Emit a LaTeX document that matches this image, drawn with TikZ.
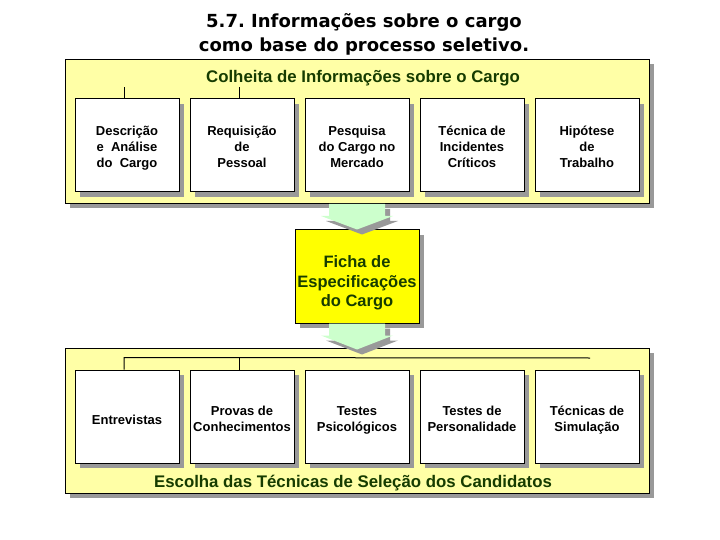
\documentclass[tikz,border=0pt]{standalone}
\usepackage{fontspec}
\setmainfont{Liberation Sans}
\newfontfamily\headfont{DejaVu Sans}
\usepackage{tikz}
\usetikzlibrary{positioning, shadows, calc}

\definecolor{panelyellow}{HTML}{FFFFA6}
\definecolor{fichayellow}{HTML}{FFFF00}
\definecolor{titlegreen}{HTML}{163C00}
\definecolor{arrowgreen}{HTML}{CCFFCC}
\definecolor{shadowgray}{HTML}{999999}

% box text, set a little below the centre
\newcommand\boxtext[2][4pt]{\raisebox{-#1}[\height][\depth]{\begin{tabular}{@{}c@{}}#2\end{tabular}}}

\begin{document}
\frenchspacing
\begin{tikzpicture}[
    x=1pt, y=-1pt,
    line width=1pt,
    font=\bfseries,
    shade/.style={
      drop shadow={shadow xshift=5pt, shadow yshift=-5pt, fill=shadowgray, opacity=1}
    },
    panel/.style={
      rectangle,
      draw,
      fill=panelyellow,
      shade,
      minimum width=584pt,
      minimum height=144pt,
      inner sep=0pt
    },
    block/.style={
      rectangle,
      draw,
      fill=white,
      shade,
      minimum width=104pt,
      minimum height=93pt,
      inner sep=0pt,
      font=\fontsize{13}{16}\bfseries
    },
    paneltitle/.style={
      text=titlegreen,
      font=\fontsize{16.8}{20}\bfseries
    },
    bigarrow/.style={
      fill=arrowgreen,
      shade
    }
  ]
    \useasboundingbox (0,0) rectangle (720,540);

    % heading
    \node[font=\headfont\fontsize{18}{24}\bfseries, align=center] (head) at (364,34)
      {5.7. Informações sobre o cargo\\como base do processo seletivo.};

    % upper panel
    \node[panel] (colheita) at (357,131.5) {};
    \node[paneltitle] (coltitle) at ([xshift=6pt, yshift=-19pt]colheita.north) {Colheita de Informações sobre o Cargo};
    \node[block] (desc) at (127,145.5) {\boxtext[2.5pt]{Descrição\\e~ Análise\\do~ Cargo}};
    \node[block, right=10pt of desc] (requis) {\boxtext[2.5pt]{Requisição\\de\\Pessoal}};
    \node[block, right=10pt of requis] (pesq) {\boxtext[2.5pt]{Pesquisa\\do Cargo no\\Mercado}};
    \node[block, right=10pt of pesq] (incid) {\boxtext[2.5pt]{Técnica de\\Incidentes\\Críticos}};
    \node[block, right=10pt of incid] (hipot) {\boxtext[2.5pt]{Hipótese\\de\\Trabalho}};
    \coordinate (t1) at ([xshift=-3pt, yshift=11pt]desc.north);
    \coordinate (t2) at ([xshift=-3pt, yshift=11pt]requis.north);
    \draw (t1) -- (t1 |- desc.north);
    \draw (t2) -- (t2 |- requis.north);

    % middle box
    \node[block, fill=fichayellow, minimum width=124pt, text=titlegreen,
          font=\fontsize{16.5}{20}\bfseries] (ficha) at (357,276.5)
      {\boxtext[6.5pt]{Ficha de\\Especificações\\do Cargo}};

    % lower panel
    \node[panel, minimum height=145pt] (escolha) at (357,420.5) {};
    \node[paneltitle] (esctitle) at ([xshift=-4pt, yshift=10pt]escolha.south) {Escolha das Técnicas de Seleção dos Candidatos};
    \node[block] (entrev) at (127,416.5) {\boxtext[5pt]{Entrevistas}};
    \node[block, right=10pt of entrev] (provas) {\boxtext{Provas de\\Conhecimentos}};
    \node[block, right=10pt of provas] (psico) {\boxtext{Testes\\Psicológicos}};
    \node[block, right=10pt of psico] (perso) {\boxtext{Testes de\\Personalidade}};
    \node[block, right=10pt of perso] (simul) {\boxtext{Técnicas de\\Simulação}};
    \coordinate (h1) at ([xshift=-3pt, yshift=12pt]entrev.north);
    \coordinate (h2) at ([xshift=-3pt, yshift=12pt]provas.north);
    \coordinate (hend) at (590,358);
    \draw (h1 |- entrev.north) -- (h1) -- (hend);
    \draw (h2 |- provas.north) -- (h2);

    % block arrows
    \path[bigarrow] ($(colheita.south)+(-28,0)$) -- ++(0,12) -- ++(-8,0) -- (ficha.north)
      -- ($(colheita.south)+(36,12)$) -- ++(-8,0) -- ($(colheita.south)+(28,0)$) -- cycle;
    \path[bigarrow] ($(ficha.south)+(-28,0)$) -- ++(0,12) -- ++(-8,0) -- ([yshift=-2pt]escolha.north)
      -- ($(ficha.south)+(36,12)$) -- ++(-8,0) -- ($(ficha.south)+(28,0)$) -- cycle;
  \end{tikzpicture}
\end{document}
